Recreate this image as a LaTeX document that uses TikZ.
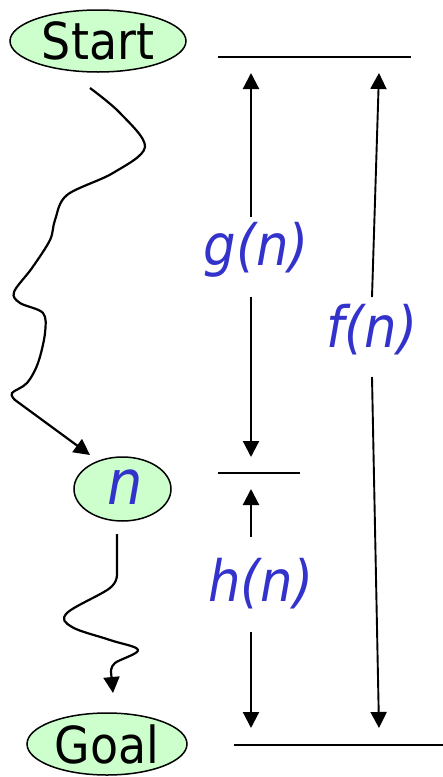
\documentclass[tikz,border=0pt]{standalone}
\usepackage{fontspec}
\setmainfont{DejaVu Sans Condensed}
\usetikzlibrary{shapes.geometric,arrows.meta}
\definecolor{nodegreen}{RGB}{204,255,204}
\definecolor{labblue}{RGB}{51,51,204}
\tikzset{
  statebox/.style={ellipse, draw=black, line width=1.5pt, fill=nodegreen, inner sep=0pt},
  bigtext/.style={font=\fontsize{51}{60}\selectfont},
  labtext/.style={font=\fontsize{57}{66}\selectfont\itshape, text=labblue, inner sep=0pt},
  arr/.style={line width=2.2pt, -{Triangle[length=16pt,width=16pt]}},
  rule/.style={line width=2.4pt},
}
\begin{document}
\begin{tikzpicture}[x=1pt,y=-1pt]
\useasboundingbox (0,0) rectangle (443,777);
% nodes
\node[statebox, bigtext, minimum width=176pt, minimum height=62pt] (start) at (98,41) {Start};
\node[statebox, minimum width=97pt, minimum height=64pt, font=\fontsize{62}{70}\selectfont\itshape, text=labblue] (n) at (122.5,489) {\hspace*{6pt}\raisebox{4pt}{n}};
\node[statebox, bigtext, minimum width=160pt, minimum height=62pt] (goal) at (107,744) {Goal};
% labels
\node[labtext] (glab) at (256,250) {g(n)};
\node[labtext] (flab) at (372,330) {f(n)};
\node[labtext] (hlab) at (261,584) {h(n)};
% horizontal rules
\coordinate (r1a) at (218,57); \coordinate (r1b) at (411,57);
\coordinate (r2a) at (218,473); \coordinate (r2b) at (300,473);
\coordinate (r3a) at (234,745); \coordinate (r3b) at (443,745);
\draw[rule] (r1a) -- (r1b);
\draw[rule] (r2a) -- (r2b);
\draw[rule] (r3a) -- (r3b);
% g(n) arrows
\coordinate (gtop) at (251,73); \coordinate (gu) at (251,217);
\coordinate (gd) at (251,297); \coordinate (gbot) at (251,457);
\draw[arr] (gu) -- (gtop);
\draw[arr] (gd) -- (gbot);
% h(n) arrows
\coordinate (htop) at (251,489); \coordinate (hu) at (251,537);
\coordinate (hd) at (251,632); \coordinate (hbot) at (251,728);
\draw[arr] (hu) -- (htop);
\draw[arr] (hd) -- (hbot);
% f(n) arrows
\coordinate (ftop) at (379,73); \coordinate (fu) at (372,297);
\coordinate (fd) at (372,377); \coordinate (fbot) at (379,728);
\draw[arr, line width=1.9pt] (fu) -- (ftop);
\draw[arr, line width=1.9pt] (fd) -- (fbot);
% squiggle Start -> n
\coordinate (s0) at (90,88);
\coordinate (s9) at (90,455);
\draw[arr] plot[smooth, tension=0.55] coordinates {(s0) (120,113) (145,147) (113,173) (67,195) (55,220) (50,240) (32,268) (14,292) (20,303) (43,313) (45,333) (38,363) (27,383) (12,393) (15,400)} -- (s9);
% squiggle n -> Goal
\coordinate (t0) at (117,534);
\coordinate (t9) at (113,693);
\draw[arr] (t0) -- (117,573) plot[smooth, tension=0.6] coordinates {(117,573) (110,588) (67,613) (72,627) (110,640) (138,650) (115,663) (111,672)} -- (t9);
\end{tikzpicture}
\end{document}
